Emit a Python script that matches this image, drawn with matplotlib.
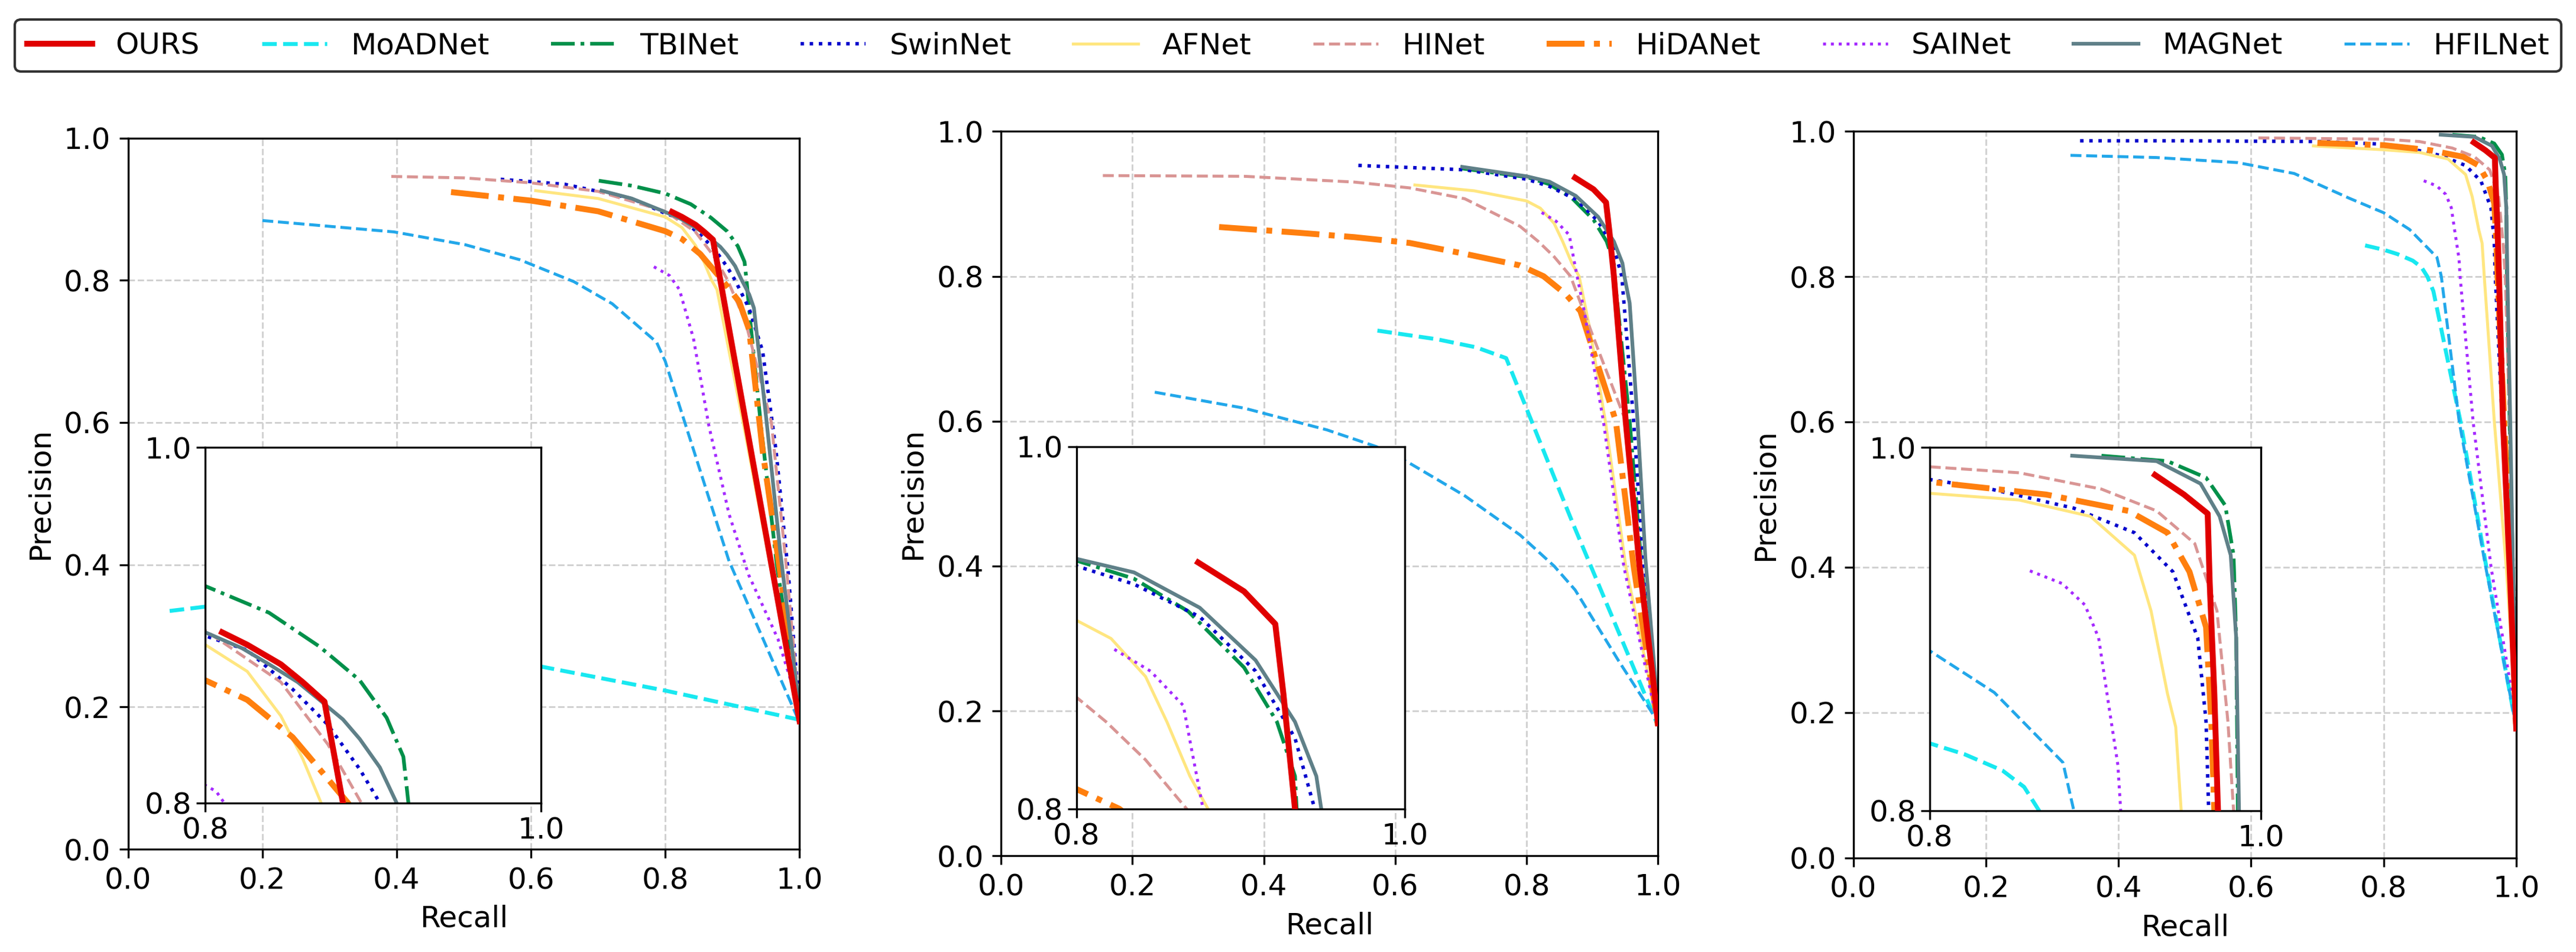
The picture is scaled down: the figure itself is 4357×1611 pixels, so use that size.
import matplotlib
matplotlib.use("Agg")
import matplotlib.pyplot as plt

# method names and styles
methods = ["OURS", "MoADNet", "TBINet", "SwinNet", "AFNet",
           "HINet", "HiDANet", "SAINet", "MAGNet", "HFILNet"]
colors = ["#e00000", "#18e8f0", "#00904a", "#0000cc", "#ffe680",
          "#d99594", "#ff7f0e", "#a52aff", "#5f8088", "#22a7ea"]
styles = ["-", "--", "-.", ":", "-", "--", "-.", ":", "-", "--"]
widths = [2.4, 1.6, 1.5, 1.4, 1.2, 1.2, 2.4, 1.2, 1.5, 1.2]

# ---- dataset 1 (recall, precision) ----
r1_ours = [0.81, 0.825, 0.845, 0.858, 0.871, 0.882, 0.92, 0.96, 1.0]
p1_ours = [0.896, 0.889, 0.878, 0.868, 0.857, 0.80, 0.60, 0.39, 0.18]
r1_moad = [0.062, 0.115, 0.2, 0.35, 0.5, 0.614, 0.8, 1.0]
p1_moad = [0.335, 0.341, 0.335, 0.305, 0.278, 0.257, 0.223, 0.182]
r1_tbi = [0.701, 0.75, 0.80, 0.838, 0.868, 0.892, 0.908, 0.918, 0.921, 0.927, 0.942, 0.966, 1.0]
p1_tbi = [0.940, 0.933, 0.922, 0.907, 0.888, 0.869, 0.848, 0.826, 0.80, 0.738, 0.60, 0.40, 0.19]
r1_swin = [0.555, 0.65, 0.75, 0.80, 0.825, 0.852, 0.873, 0.892, 0.904, 0.925, 0.945, 0.965, 0.983, 1.0]
p1_swin = [0.942, 0.935, 0.915, 0.894, 0.886, 0.864, 0.844, 0.819, 0.80, 0.76, 0.70, 0.56, 0.39, 0.19]
r1_af = [0.607, 0.7, 0.8, 0.825, 0.845, 0.858, 0.869, 0.877, 0.92, 0.96, 1.0]
p1_af = [0.926, 0.915, 0.889, 0.874, 0.849, 0.825, 0.80, 0.787, 0.58, 0.38, 0.185]
r1_hi = [0.392, 0.5, 0.6, 0.7, 0.8, 0.811, 0.845, 0.873, 0.893, 0.92, 0.958, 0.98, 1.0]
p1_hi = [0.946, 0.944, 0.937, 0.925, 0.897, 0.890, 0.868, 0.833, 0.80, 0.74, 0.60, 0.40, 0.19]
r1_hida = [0.481, 0.6, 0.7, 0.8, 0.825, 0.852, 0.869, 0.885, 0.91, 0.925, 0.945, 0.971, 1.0]
p1_hida = [0.924, 0.912, 0.897, 0.869, 0.858, 0.837, 0.818, 0.80, 0.77, 0.73, 0.56, 0.39, 0.18]
r1_sai = [0.783, 0.8065, 0.821, 0.842, 0.865, 0.895, 0.924, 0.968, 1.0]
p1_sai = [0.819, 0.8065, 0.787, 0.718, 0.595, 0.471, 0.386, 0.295, 0.197]
r1_mag = [0.705, 0.75, 0.80, 0.822, 0.838, 0.855, 0.868, 0.882, 0.892, 0.904, 0.914, 0.925, 0.932, 0.951, 0.971, 1.0]
p1_mag = [0.926, 0.915, 0.896, 0.887, 0.878, 0.868, 0.858, 0.847, 0.836, 0.820, 0.80, 0.78, 0.761, 0.60, 0.42, 0.194]
r1_hfil = [0.2, 0.298, 0.396, 0.502, 0.583, 0.664, 0.721, 0.787, 0.80, 0.895, 1.0]
p1_hfil = [0.884, 0.876, 0.868, 0.850, 0.829, 0.798, 0.767, 0.713, 0.686, 0.405, 0.178]

# ---- dataset 2 ----
r2_ours = [0.874, 0.902, 0.921, 0.926, 0.933, 0.951, 0.972, 0.993, 1.0]
p2_ours = [0.936, 0.920, 0.902, 0.863, 0.80, 0.60, 0.40, 0.241, 0.183]
r2_moad = [0.573, 0.664, 0.723, 0.769, 0.87, 1.0]
p2_moad = [0.725, 0.713, 0.702, 0.687, 0.46, 0.18]
r2_tbi = [0.70, 0.8, 0.835, 0.868, 0.902, 0.922, 0.933, 0.934, 0.957, 0.975, 1.0]
p2_tbi = [0.949, 0.937, 0.927, 0.909, 0.878, 0.848, 0.818, 0.80, 0.60, 0.40, 0.19]
r2_swin = [0.544, 0.706, 0.8, 0.835, 0.875, 0.909, 0.933, 0.945, 0.963, 0.978, 1.0]
p2_swin = [0.953, 0.947, 0.934, 0.924, 0.906, 0.876, 0.839, 0.80, 0.60, 0.40, 0.19]
r2_af = [0.630, 0.72, 0.80, 0.821, 0.842, 0.855, 0.869, 0.880, 0.896, 0.920, 0.951, 1.0]
p2_af = [0.926, 0.918, 0.904, 0.894, 0.873, 0.848, 0.818, 0.80, 0.729, 0.60, 0.40, 0.185]
r2_hi = [0.155, 0.37, 0.538, 0.622, 0.706, 0.79, 0.818, 0.842, 0.867, 0.90, 0.951, 0.975, 1.0]
p2_hi = [0.939, 0.938, 0.930, 0.922, 0.907, 0.869, 0.848, 0.827, 0.80, 0.72, 0.60, 0.40, 0.19]
r2_hida = [0.332, 0.454, 0.538, 0.622, 0.706, 0.79, 0.826, 0.86, 0.882, 0.936, 0.963, 1.0]
p2_hida = [0.868, 0.860, 0.854, 0.846, 0.831, 0.815, 0.80, 0.775, 0.752, 0.60, 0.40, 0.18]
r2_sai = [0.823, 0.845, 0.865, 0.870, 0.877, 0.887, 0.917, 0.948, 1.0]
p2_sai = [0.888, 0.876, 0.857, 0.833, 0.80, 0.756, 0.60, 0.40, 0.18]
r2_mag = [0.702, 0.8, 0.835, 0.875, 0.909, 0.933, 0.946, 0.949, 0.957, 0.969, 0.981, 1.0]
p2_mag = [0.951, 0.938, 0.9305, 0.911, 0.882, 0.848, 0.818, 0.80, 0.763, 0.60, 0.41, 0.20]
r2_hfil = [0.234, 0.37, 0.496, 0.571, 0.622, 0.706, 0.79, 0.842, 0.874, 0.941, 1.0]
p2_hfil = [0.640, 0.618, 0.588, 0.565, 0.542, 0.497, 0.443, 0.40, 0.367, 0.268, 0.185]

# ---- dataset 3 ----
r3_ours = [0.936, 0.9535, 0.9678, 0.969, 0.9718, 0.974, 0.980, 0.990, 1.0]
p3_ours = [0.9848, 0.974, 0.9635, 0.9254, 0.8645, 0.80, 0.60, 0.40, 0.178]
r3_moad = [0.772, 0.80, 0.821, 0.844, 0.857, 0.866, 0.875, 0.916, 0.955, 1.0]
p3_moad = [0.843, 0.837, 0.831, 0.822, 0.813, 0.80, 0.78, 0.60, 0.40, 0.18]
r3_tbi = [0.9037, 0.9435, 0.9668, 0.9784, 0.9834, 0.985, 0.986, 0.99, 0.995, 1.0]
p3_tbi = [0.9954, 0.9924, 0.9833, 0.968, 0.9406, 0.895, 0.80, 0.60, 0.40, 0.19]
r3_swin = [0.342, 0.5, 0.707, 0.8, 0.837, 0.887, 0.9236, 0.9468, 0.9618, 0.9668, 0.9684, 0.979, 0.990, 1.0]
p3_swin = [0.987, 0.987, 0.986, 0.9823, 0.977, 0.9665, 0.953, 0.9315, 0.895, 0.849, 0.80, 0.60, 0.40, 0.19]
r3_af = [0.694, 0.8, 0.854, 0.897, 0.9236, 0.9336, 0.9435, 0.9485, 0.9518, 0.967, 0.985, 1.0]
p3_af = [0.980, 0.9747, 0.971, 0.962, 0.9406, 0.910, 0.8645, 0.846, 0.80, 0.60, 0.40, 0.19]
r3_hi = [0.611, 0.8, 0.854, 0.9037, 0.937, 0.960, 0.9734, 0.980, 0.9834, 0.99, 0.995, 1.0]
p3_hi = [0.991, 0.9893, 0.986, 0.977, 0.965, 0.947, 0.910, 0.849, 0.80, 0.60, 0.40, 0.19]
r3_hida = [0.70, 0.8, 0.8704, 0.920, 0.9435, 0.9568, 0.9668, 0.970, 0.9718, 0.982, 0.991, 1.0]
p3_hida = [0.984, 0.981, 0.974, 0.965, 0.953, 0.9315, 0.901, 0.849, 0.80, 0.60, 0.40, 0.18]
r3_sai = [0.8605, 0.880, 0.8937, 0.902, 0.907, 0.9136, 0.9153, 0.935, 0.962, 1.0]
p3_sai = [0.932, 0.925, 0.9132, 0.895, 0.8645, 0.825, 0.80, 0.60, 0.40, 0.19]
r3_mag = [0.886, 0.937, 0.9635, 0.975, 0.9817, 0.985, 0.9867, 0.991, 0.995, 1.0]
p3_mag = [0.9954, 0.9924, 0.980, 0.962, 0.9406, 0.895, 0.80, 0.60, 0.40, 0.187]
r3_hfil = [0.3275, 0.4567, 0.58, 0.665, 0.748, 0.80, 0.839, 0.8804, 0.887, 0.914, 0.954, 1.0]
p3_hfil = [0.967, 0.964, 0.957, 0.942, 0.908, 0.888, 0.865, 0.8265, 0.80, 0.60, 0.40, 0.18]

panels = [
    [(r1_ours, p1_ours), (r1_moad, p1_moad), (r1_tbi, p1_tbi), (r1_swin, p1_swin), (r1_af, p1_af),
     (r1_hi, p1_hi), (r1_hida, p1_hida), (r1_sai, p1_sai), (r1_mag, p1_mag), (r1_hfil, p1_hfil)],
    [(r2_ours, p2_ours), (r2_moad, p2_moad), (r2_tbi, p2_tbi), (r2_swin, p2_swin), (r2_af, p2_af),
     (r2_hi, p2_hi), (r2_hida, p2_hida), (r2_sai, p2_sai), (r2_mag, p2_mag), (r2_hfil, p2_hfil)],
    [(r3_ours, p3_ours), (r3_moad, p3_moad), (r3_tbi, p3_tbi), (r3_swin, p3_swin), (r3_af, p3_af),
     (r3_hi, p3_hi), (r3_hida, p3_hida), (r3_sai, p3_sai), (r3_mag, p3_mag), (r3_hfil, p3_hfil)],
]

ticks = [0.0, 0.2, 0.4, 0.6, 0.8, 1.0]
fs = 12

fig = plt.figure(figsize=(4357 / 300, 1611 / 300), dpi=300)
positions = [[0.0497, 0.108, 0.2607, 0.747],
             [0.3886, 0.101, 0.2550, 0.761],
             [0.7195, 0.099, 0.2573, 0.763]]

handles = []
for k, curves in enumerate(panels):
    ax = fig.add_axes(positions[k])
    axins = ax.inset_axes([0.115, 0.065, 0.5, 0.5])
    # draw baselines first, OURS last so it sits on top
    order = list(range(1, len(methods))) + [0]
    for i in order:
        r, p = curves[i]
        kw = dict(color=colors[i], linestyle=styles[i], linewidth=widths[i],
                  label=methods[i], zorder=3 if i == 0 else 2)
        line, = ax.plot(r, p, **kw)
        axins.plot(r, p, **kw)
        if k == 0:
            handles.append(line)
    ax.set_xlim(0, 1)
    ax.set_ylim(0, 1)
    ax.set_xticks(ticks)
    ax.set_yticks(ticks)
    ax.tick_params(labelsize=fs)
    ax.grid(True, linestyle="--", color="#d0d0d0", linewidth=0.7)
    ax.set_xlabel("Recall", fontsize=fs)
    ax.set_ylabel("Precision", fontsize=fs)

    axins.set_xlim(0.8, 1.0)
    axins.set_ylim(0.8, 1.0)
    axins.set_xticks([0.8, 1.0])
    axins.set_yticks([0.8, 1.0])
    axins.tick_params(labelsize=fs, pad=2)
    axins.set_facecolor("white")

# legend in method order
handles = sorted(handles, key=lambda h: methods.index(h.get_label()))
leg = fig.legend(handles, methods, loc="upper center", bbox_to_anchor=(0.5, 0.995),
                 ncol=10, fontsize=fs, columnspacing=2.1, handlelength=2.2,
                 handletextpad=0.8, fancybox=True, framealpha=1, edgecolor="0.2")
leg.get_frame().set_linewidth(1.0)

fig.savefig("out.png", dpi=300)
